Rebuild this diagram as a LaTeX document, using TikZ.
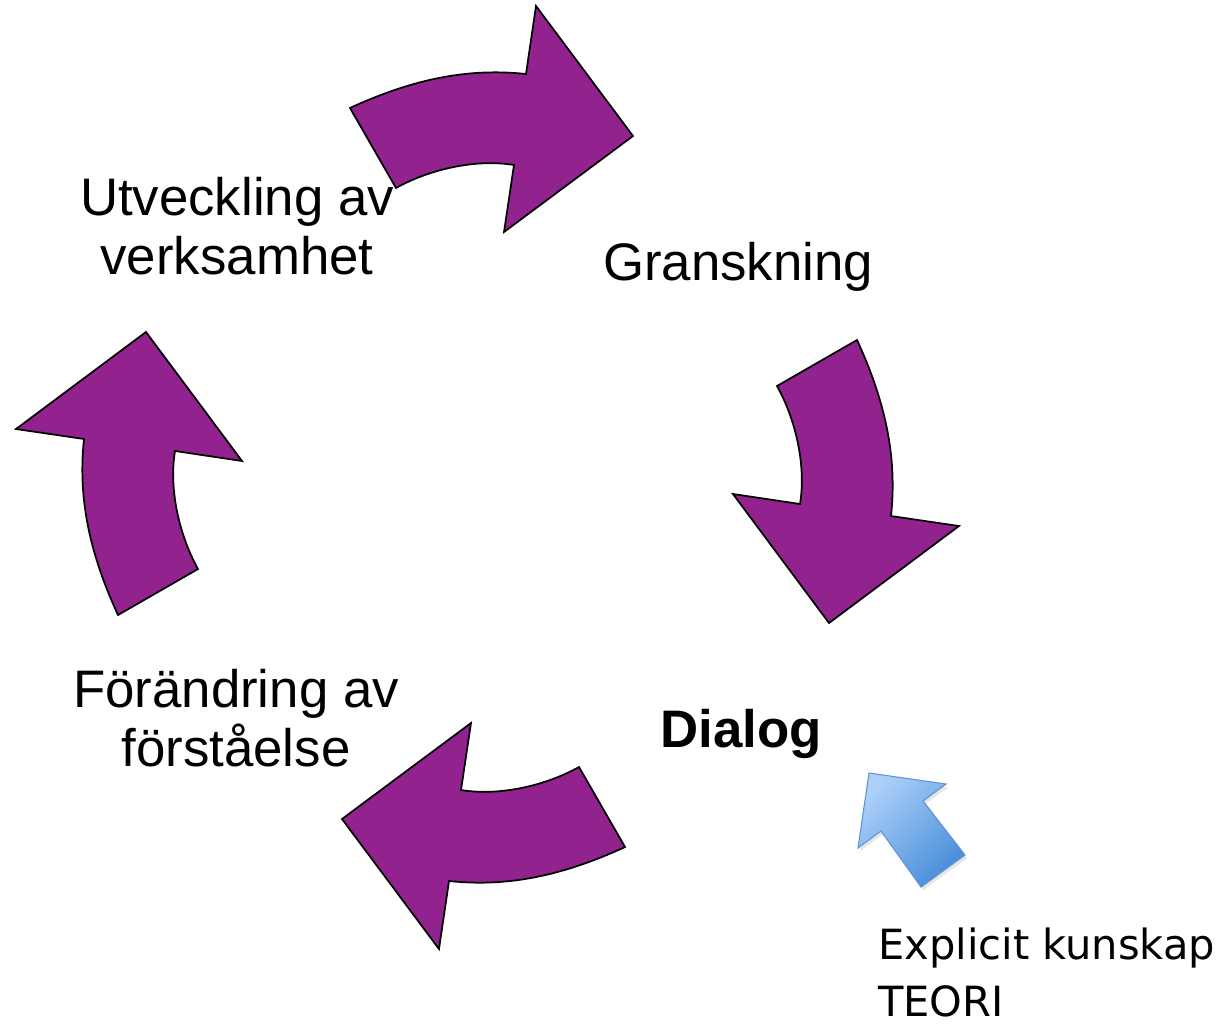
\documentclass[tikz,border=0pt]{standalone}
\usepackage{fontspec}
\setmainfont{Liberation Sans}
\newfontfamily\dvsfont{DejaVu Sans}
\usetikzlibrary{shadows}
\definecolor{cyc}{RGB}{146,34,142}
\definecolor{bluelt}{RGB}{172,208,248}
\definecolor{bluedk}{RGB}{72,142,218}
\definecolor{blueln}{RGB}{92,148,214}
\begin{document}
\begin{tikzpicture}[x=0.75pt,y=-0.75pt,
  cyclearrow/.style={fill=cyc,draw=black,line width=1.3pt,line join=miter},
  lbl/.style={font=\fontsize{39.6}{44.25}\selectfont,align=center,anchor=base,inner sep=0pt},
  bluearrow/.style={draw=blueln,line width=0.8pt,top color=bluelt,bottom color=bluedk,shading angle=45,
    drop shadow={opacity=0.2,shadow xshift=1.5pt,shadow yshift=-2.5pt}},
  explbl/.style={font=\dvsfont\fontsize{31.2}{42.75}\selectfont,align=left,anchor=base west,inner sep=0pt}]
\useasboundingbox (0,0) rectangle (1230,1025);
\coordinate (C) at (487.5,477.5);
\foreach \a in {0,-90,-180,-270}{
  \path[cyclearrow, rotate around={\a:(C)}]
    (350,108) .. controls (415,78) and (470,68) .. (526,74) -- (536,6) -- (633,136)
    -- (504,232) -- (514,165) .. controls (478,159) and (432,168) .. (396,188) -- cycle;
}
\path[bluearrow] (869,773) -- (946,784) -- (923,801) -- (965,855) -- (921,887)
  -- (881,831) -- (858,848) -- cycle;
\node[lbl] (utv) at (237,274) {Utveckling av\\verksamhet};
\node[lbl] (gran) at (738,280) {Granskning};
\node[lbl] (forand) at (236,766) {Förändring av\\förståelse};
\node[lbl,font=\fontsize{39.6}{44.25}\selectfont\bfseries] (dialog) at (741,747) {Dialog};
\node[explbl] (expl) at (878,1016) {Explicit kunskap\\TEORI};
\end{tikzpicture}
\end{document}
